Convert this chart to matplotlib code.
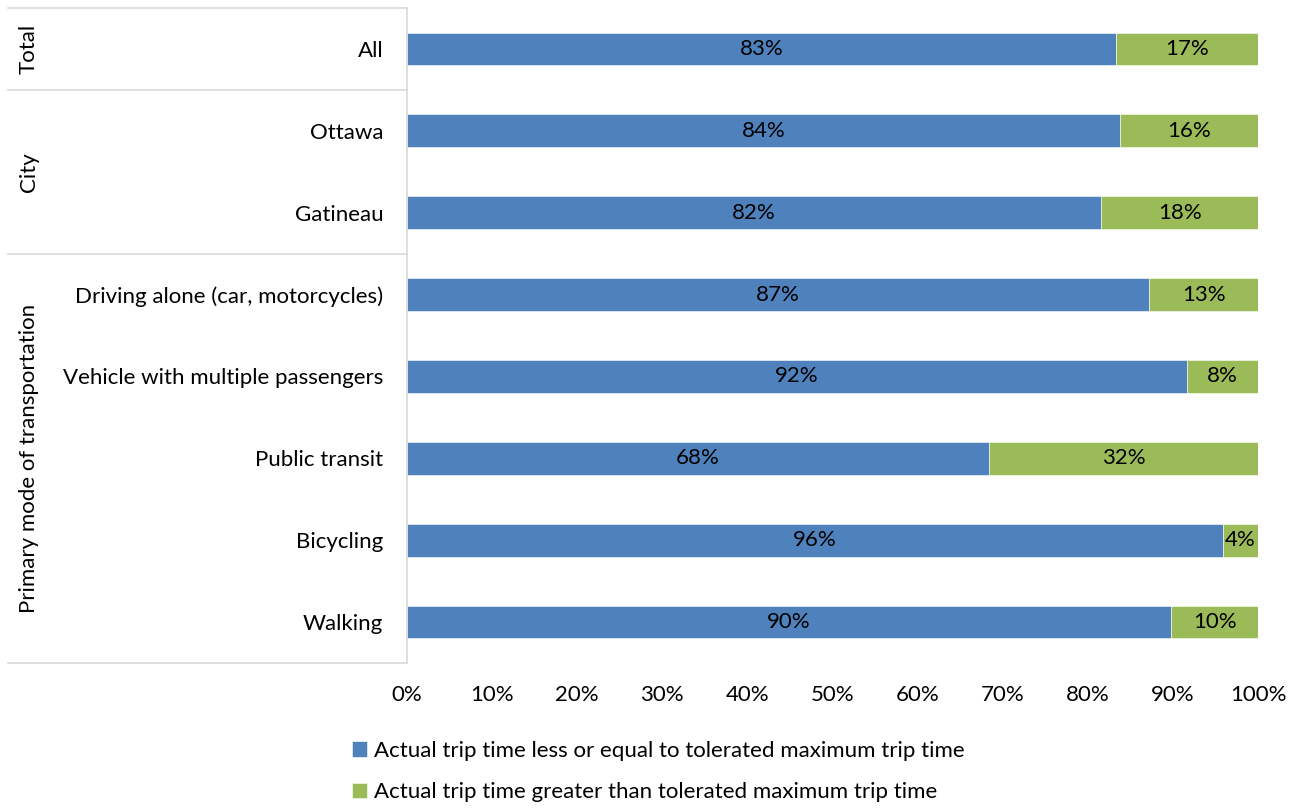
import matplotlib
matplotlib.use('Agg')
import matplotlib.pyplot as plt
from matplotlib.transforms import blended_transform_factory
from matplotlib.ticker import PercentFormatter

# data
categories = ['All', 'Ottawa', 'Gatineau', 'Driving alone (car, motorcycles)',
              'Vehicle with multiple passengers', 'Public transit', 'Bicycling', 'Walking']
within = [83.3, 83.8, 81.6, 87.2, 91.7, 68.4, 95.9, 89.8]
over = [100 - v for v in within]
groups = ['Total', 'City', 'Primary mode of transportation']
group_sizes = [1, 2, 5]
series_names = ['Actual trip time less or equal to tolerated maximum trip time',
                'Actual trip time greater than tolerated maximum trip time']

plt.rcParams['font.family'] = ['Lato', 'DejaVu Sans']
blue = '#4F81BD'
green = '#9BBB59'
grid_col = '#D9D9D9'
fs = 16

fig = plt.figure(figsize=(13.03, 8.09), dpi=100)
ax = fig.add_axes([407 / 1303, 1 - 663 / 809, 851 / 1303, 655 / 809])

y = list(range(len(categories)))
b1 = ax.barh(y, within, height=0.4, color=blue, edgecolor='white', linewidth=0.4, label=series_names[0])
b2 = ax.barh(y, over, left=within, height=0.4, color=green, edgecolor='white', linewidth=0.4, label=series_names[1])

for i in y:
    ax.text(within[i] / 2, i, f'{round(within[i])}%', ha='center', va='center', fontsize=fs, color='black')
    ax.text(within[i] + over[i] / 2, i, f'{round(over[i])}%', ha='center', va='center', fontsize=fs, color='black')

ax.set_xlim(0, 100)
ax.set_ylim(len(categories) - 0.5, -0.5)
ax.xaxis.set_major_locator(plt.MultipleLocator(10))
ax.xaxis.set_major_formatter(PercentFormatter(decimals=0))
ax.set_yticks(y)
ax.set_yticklabels(categories)
ax.tick_params(axis='both', length=0, labelsize=fs)
ax.tick_params(axis='y', pad=17)
ax.tick_params(axis='x', pad=16)
for s in ['top', 'right', 'bottom']:
    ax.spines[s].set_visible(False)
ax.spines['left'].set_color(grid_col)
ax.spines['left'].set_linewidth(1.2)

# group separators and labels on the left
tr = blended_transform_factory(ax.transAxes, ax.transData)
x0 = (8 - 407) / 851
start = -0.5
bounds = [start]
for g, n in zip(groups, group_sizes):
    end = start + n
    ax.text((29 - 407) / 851, (start + end) / 2, g, transform=tr, rotation=90,
            ha='center', va='center', fontsize=fs)
    bounds.append(end)
    start = end
for b in bounds:
    ax.plot([x0, 0], [b, b], transform=tr, color=grid_col, lw=1.2, clip_on=False)

fig.legend(handles=[b1, b2], loc='upper center', bbox_to_anchor=(0.505, 1 - 721 / 809),
           ncol=1, frameon=False, fontsize=fs, handlelength=0.7, handleheight=0.7,
           handletextpad=0.3, labelspacing=0.95)

fig.savefig('out.png', dpi=100)
